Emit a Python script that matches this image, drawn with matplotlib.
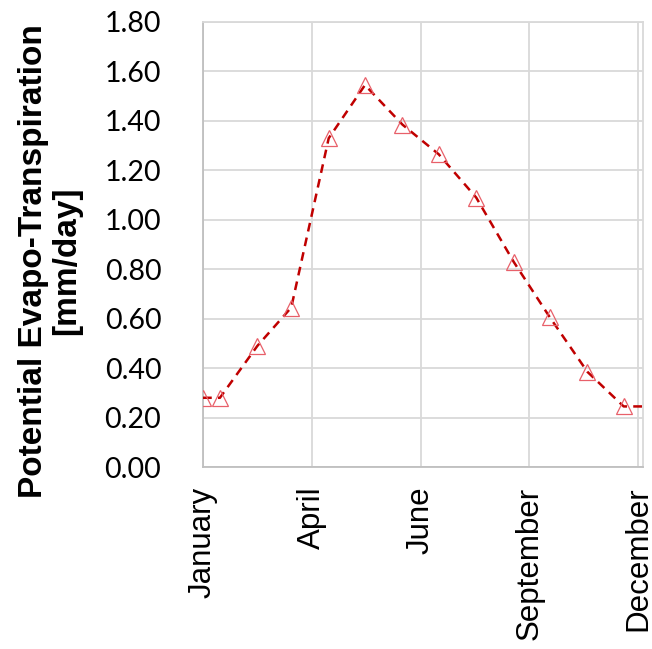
import matplotlib
matplotlib.use("Agg")
import matplotlib.pyplot as plt
import numpy as np
from datetime import datetime

# monthly potential evapo-transpiration
marker_days = ["2015-01-01", "2015-01-15", "2015-02-15", "2015-03-15", "2015-04-15",
               "2015-05-15", "2015-06-15", "2015-07-15", "2015-08-15", "2015-09-15",
               "2015-10-15", "2015-11-15", "2015-12-15"]
pet = [0.28, 0.28, 0.49, 0.645, 1.33, 1.545, 1.385, 1.265, 1.09, 0.83, 0.605, 0.385, 0.245]
end_day = "2015-12-31"
end_pet = 0.245

tick_days = ["2015-01-01", "2015-04-01", "2015-06-30", "2015-09-28", "2015-12-27"]
tick_labels = ["January", "April", "June", "September", "December"]

to_dt = lambda s: datetime.strptime(s, "%Y-%m-%d")
mx = [to_dt(d) for d in marker_days]
line_x = mx + [to_dt(end_day)]
line_y = pet + [end_pet]

fig = plt.figure(figsize=(6.52, 6.49), dpi=100)
ax = fig.add_axes([203 / 652, 1 - 467 / 649, 440 / 652, 445 / 649])

ax.plot(line_x, line_y, color="#C00000", lw=1.8, ls=(0, (3.5, 2.5)), zorder=3)
ax.plot(mx, pet, ls="none", marker="^", ms=12, mfc="none", mec="#E8606A", mew=0.9, zorder=4)

ax.set_xlim(to_dt("2015-01-01"), to_dt("2015-12-31"))
ax.set_ylim(0, 1.8)
ax.set_yticks(np.arange(0, 1.81, 0.2))
ax.set_yticklabels([f"{v:.2f}" for v in np.arange(0, 1.81, 0.2)],
                   fontfamily="Lato", fontsize=20.5)
ax.set_xticks([to_dt(d) for d in tick_days])
ax.set_xticklabels(tick_labels, rotation=90, fontfamily="Liberation Sans", fontsize=22.5,
                   va="top", ha="center")

ax.tick_params(axis="both", length=0)
ax.tick_params(axis="y", pad=30)
ax.tick_params(axis="x", pad=14)
ax.grid(True, color="#D9D9D9", lw=1.3)
ax.set_axisbelow(True)
for side in ("left", "bottom"):
    ax.spines[side].set_color("#BFBFBF")
    ax.spines[side].set_linewidth(1.3)
for side in ("top", "right"):
    ax.spines[side].set_color("#D9D9D9")
    ax.spines[side].set_linewidth(1.3)

fig.text(50 / 652, 1 - 261 / 649, "Potential Evapo-Transpiration\n[mm/day]",
         rotation=90, ha="center", va="center", multialignment="center",
         fontfamily="Liberation Sans", fontweight="bold", fontsize=24, linespacing=1.1)

fig.savefig("out.png", dpi=100)
